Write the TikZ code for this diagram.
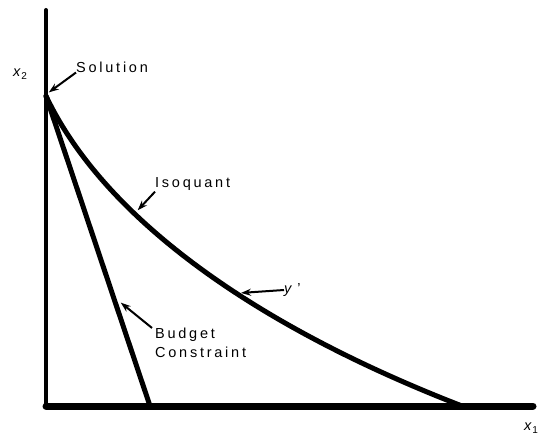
\documentclass[tikz,border=0pt]{standalone}
\usepackage{fontspec}
\setmainfont{Liberation Sans}
\usetikzlibrary{arrows.meta, positioning}

\tikzset{
  axisline/.style={line width=4pt, line cap=round},
  curveline/.style={line width=5pt, line cap=round},
  pointer/.style={-{Stealth[length=10pt, width=7pt]}, line width=2pt, shorten >=1pt},
  lbl/.style={inner sep=0pt, anchor=west, align=left, font=\fontsize{14.5}{19}\selectfont\addfontfeature{LetterSpace=19}},
  axlbl/.style={inner sep=0pt, anchor=west, font=\fontsize{14.5}{19}\selectfont}
}
\newcommand{\axlabel}[2]{\textit{x}\kern0.5pt\raisebox{-3pt}{\fontsize{10}{10}\selectfont #2}}

\begin{document}
\begin{tikzpicture}[x=1pt, y=-1pt]
    \useasboundingbox (0,0) rectangle (539,436);
    % axes
    \coordinate (orig) at (46,406);
    \coordinate (ytop) at (46,10);
    \coordinate (xend) at (533,406);
    \draw[axisline] (orig) -- (ytop);
    \draw[line width=7pt, line cap=round] (orig) -- (xend);
    \node[axlbl] (xtwo) at (13,74) {\axlabel{x}{2}};
    \node[axlbl] (xone) at (524,428) {\axlabel{x}{1}};
    % budget constraint and isoquant
    \coordinate (sol) at (46,96);
    \coordinate (bud) at (150,406);
    \coordinate (iso) at (462,406);
    \draw[curveline] (sol) -- (bud);
    \draw[curveline] (sol) .. controls (100,210) and (240,320) .. (iso);
    % labels
    \coordinate (solpt) at (48,93);
    \coordinate (isopt) at (137,211);
    \coordinate (ypt) at (240,293);
    \coordinate (budpt) at (120,302);
    \node[lbl] (soltxt) at (76,67) {Solution};
    \node[lbl] (isotxt) at (155,184) {Isoquant};
    \node[lbl] (ytxt) at (284,290) {\textit{y}\,'};
    \node[lbl] (budtxt) at (155,343) {Budget\\Constraint};
    \draw[pointer] (soltxt.south west) -- (solpt);
    \draw[pointer] ([yshift=-1pt]isotxt.south west) -- (isopt);
    \draw[pointer] (ytxt.west) -- (ypt);
    \draw[pointer] ([xshift=-3pt]budtxt.north west) -- (budpt);
\end{tikzpicture}
\end{document}
